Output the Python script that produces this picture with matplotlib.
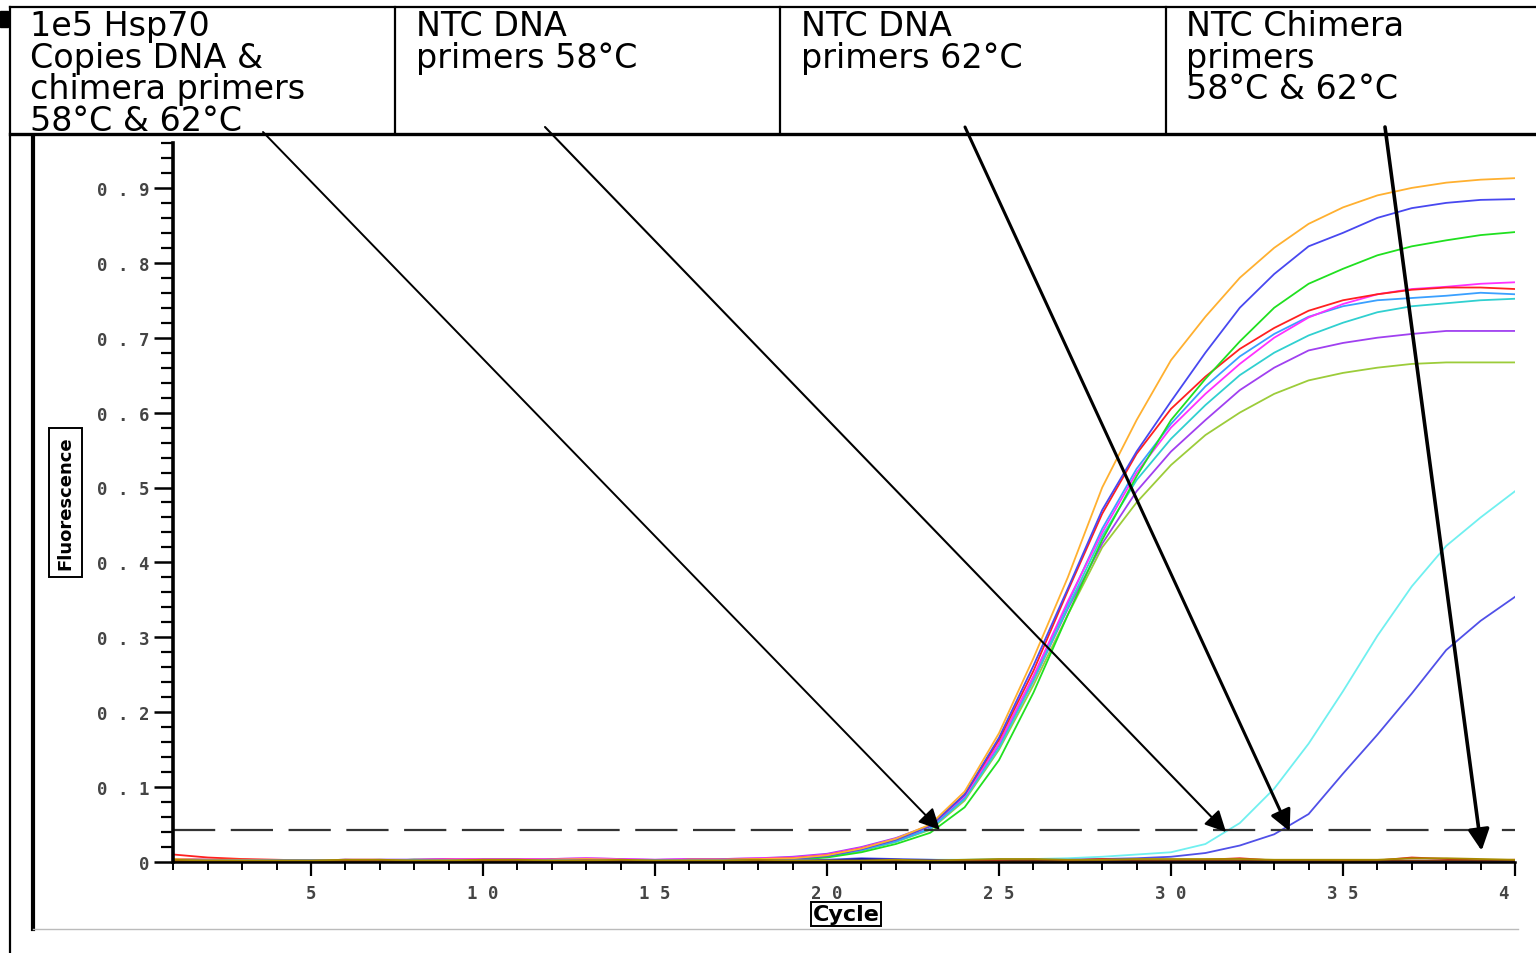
import matplotlib
matplotlib.use("Agg")
from matplotlib import pyplot as plt
from matplotlib.lines import Line2D
from matplotlib.patches import Rectangle
from matplotlib.ticker import MultipleLocator, FixedLocator
from matplotlib.transforms import Bbox, TransformedBbox

# ---- data (fluorescence per cycle) ----
cycles = list(range(1, 41))

orange = [0.004, 0.003, 0.003, 0.002, 0.002, 0.003, 0.003, 0.002, 0.003, 0.003,
          0.003, 0.003, 0.004, 0.003, 0.002, 0.003, 0.003, 0.004, 0.005, 0.009,
          0.018, 0.031, 0.050, 0.094, 0.172, 0.272, 0.380, 0.500, 0.590, 0.670,
          0.728, 0.780, 0.820, 0.852, 0.874, 0.890, 0.900, 0.907, 0.911, 0.913]
blue = [0.003, 0.002, 0.002, 0.002, 0.002, 0.003, 0.002, 0.002, 0.002, 0.003,
        0.003, 0.002, 0.003, 0.003, 0.002, 0.002, 0.003, 0.003, 0.004, 0.008,
        0.017, 0.030, 0.048, 0.090, 0.166, 0.262, 0.365, 0.470, 0.548, 0.615,
        0.680, 0.740, 0.785, 0.822, 0.840, 0.860, 0.873, 0.880, 0.884, 0.885]
green = [0.003, 0.002, 0.002, 0.002, 0.002, 0.002, 0.002, 0.003, 0.002, 0.002,
         0.002, 0.003, 0.003, 0.002, 0.002, 0.003, 0.003, 0.003, 0.003, 0.006,
         0.013, 0.024, 0.039, 0.073, 0.136, 0.226, 0.330, 0.430, 0.515, 0.590,
         0.645, 0.695, 0.740, 0.772, 0.792, 0.810, 0.822, 0.830, 0.837, 0.841]
red = [0.010, 0.006, 0.004, 0.003, 0.002, 0.002, 0.002, 0.003, 0.003, 0.002,
       0.002, 0.003, 0.003, 0.002, 0.002, 0.003, 0.003, 0.004, 0.005, 0.009,
       0.018, 0.030, 0.048, 0.090, 0.163, 0.255, 0.362, 0.465, 0.545, 0.605,
       0.648, 0.685, 0.713, 0.736, 0.750, 0.758, 0.764, 0.767, 0.767, 0.765]
magenta = [0.004, 0.003, 0.003, 0.002, 0.002, 0.003, 0.003, 0.003, 0.004, 0.004,
           0.004, 0.004, 0.005, 0.004, 0.003, 0.004, 0.004, 0.005, 0.006, 0.010,
           0.019, 0.031, 0.048, 0.088, 0.158, 0.248, 0.348, 0.440, 0.520, 0.580,
           0.625, 0.665, 0.700, 0.727, 0.745, 0.758, 0.765, 0.768, 0.772, 0.774]
skyblue = [0.004, 0.003, 0.003, 0.002, 0.002, 0.002, 0.003, 0.003, 0.003, 0.003,
           0.003, 0.003, 0.003, 0.003, 0.002, 0.003, 0.003, 0.004, 0.005, 0.008,
           0.016, 0.028, 0.045, 0.086, 0.157, 0.247, 0.345, 0.445, 0.525, 0.585,
           0.635, 0.675, 0.705, 0.728, 0.742, 0.750, 0.753, 0.756, 0.760, 0.758]
cyan = [0.003, 0.002, 0.002, 0.002, 0.002, 0.002, 0.002, 0.003, 0.003, 0.003,
        0.003, 0.003, 0.003, 0.003, 0.002, 0.003, 0.003, 0.003, 0.004, 0.008,
        0.016, 0.027, 0.044, 0.084, 0.152, 0.242, 0.340, 0.435, 0.510, 0.565,
        0.610, 0.650, 0.680, 0.703, 0.720, 0.734, 0.742, 0.746, 0.750, 0.752]
purple = [0.004, 0.003, 0.003, 0.002, 0.002, 0.003, 0.003, 0.003, 0.004, 0.004,
          0.004, 0.004, 0.005, 0.004, 0.003, 0.004, 0.004, 0.005, 0.007, 0.011,
          0.020, 0.032, 0.049, 0.087, 0.156, 0.242, 0.338, 0.425, 0.495, 0.548,
          0.590, 0.630, 0.660, 0.683, 0.693, 0.700, 0.705, 0.709, 0.709, 0.709]
yellowgreen = [0.003, 0.002, 0.002, 0.002, 0.002, 0.002, 0.002, 0.002, 0.003, 0.003,
               0.003, 0.003, 0.003, 0.003, 0.002, 0.003, 0.003, 0.003, 0.004, 0.007,
               0.015, 0.027, 0.043, 0.082, 0.150, 0.236, 0.330, 0.420, 0.480, 0.530,
               0.570, 0.600, 0.625, 0.643, 0.653, 0.660, 0.665, 0.667, 0.667, 0.667]

late_cyan = [0.002, 0.002, 0.002, 0.002, 0.002, 0.002, 0.002, 0.002, 0.002, 0.002,
             0.002, 0.002, 0.002, 0.002, 0.002, 0.002, 0.002, 0.002, 0.002, 0.003,
             0.003, 0.003, 0.003, 0.003, 0.004, 0.004, 0.005, 0.007, 0.010, 0.013,
             0.024, 0.052, 0.098, 0.158, 0.228, 0.302, 0.368, 0.422, 0.460, 0.495]
late_blue = [0.002, 0.002, 0.002, 0.002, 0.002, 0.002, 0.002, 0.002, 0.002, 0.002,
             0.002, 0.002, 0.002, 0.002, 0.002, 0.002, 0.002, 0.002, 0.002, 0.003,
             0.005, 0.004, 0.003, 0.002, 0.002, 0.003, 0.003, 0.004, 0.005, 0.007,
             0.012, 0.022, 0.037, 0.064, 0.118, 0.170, 0.225, 0.283, 0.322, 0.354]

base_olive = [0.003, 0.002, 0.002, 0.002, 0.002, 0.003, 0.003, 0.002, 0.002, 0.003,
              0.003, 0.002, 0.002, 0.003, 0.002, 0.002, 0.002, 0.003, 0.002, 0.002,
              0.002, 0.003, 0.002, 0.003, 0.004, 0.004, 0.003, 0.003, 0.004, 0.004,
              0.004, 0.004, 0.003, 0.003, 0.003, 0.003, 0.005, 0.005, 0.004, 0.003]
base_red = [0.002, 0.001, 0.001, 0.001, 0.001, 0.002, 0.001, 0.001, 0.001, 0.002,
            0.001, 0.001, 0.002, 0.001, 0.001, 0.001, 0.001, 0.001, 0.001, 0.001,
            0.001, 0.001, 0.001, 0.001, 0.002, 0.002, 0.002, 0.004, 0.002, 0.002,
            0.003, 0.005, 0.002, 0.002, 0.002, 0.002, 0.006, 0.004, 0.002, 0.003]
base_navy = [0.001, 0.001, 0.001, 0.001, 0.001, 0.001, 0.001, 0.001, 0.001, 0.001,
             0.001, 0.001, 0.001, 0.001, 0.001, 0.001, 0.001, 0.001, 0.001, 0.002,
             0.004, 0.003, 0.002, 0.001, 0.001, 0.001, 0.001, 0.001, 0.001, 0.001,
             0.001, 0.001, 0.001, 0.001, 0.001, 0.001, 0.001, 0.001, 0.001, 0.001]
base_brown = [0.001, 0.001, 0.001, 0.001, 0.001, 0.001, 0.001, 0.001, 0.001, 0.001,
              0.001, 0.001, 0.001, 0.001, 0.001, 0.001, 0.001, 0.001, 0.001, 0.001,
              0.001, 0.001, 0.001, 0.001, 0.001, 0.002, 0.001, 0.002, 0.002, 0.002,
              0.002, 0.002, 0.002, 0.002, 0.001, 0.002, 0.002, 0.002, 0.002, 0.002]

threshold = 0.043

header_texts = ["1e5 Hsp70\nCopies DNA &\nchimera primers\n58°C & 62°C",
                "NTC DNA\nprimers 58°C",
                "NTC DNA\nprimers 62°C",
                "NTC Chimera\nprimers\n58°C & 62°C"]

# arrow targets (cycle, fluorescence) and starts in header (figure px from top-left)
arrow_targets = [(23.28, 0.043), (31.6, 0.040), (33.45, 0.041), (39.03, 0.015)]
arrow_starts = [(263, 133), (545, 128), (965, 128), (1385, 128)]
arrow_widths = [1.4, 1.5, 2.2, 2.6]

W, H = 1536, 954
fig = plt.figure(figsize=(W / 100, H / 100), dpi=100)


def fx(px):
    return px / W


def fy(py):
    return 1 - py / H


ax = fig.add_axes([fx(173.4), fy(863), (1515 - 173.4) / W, 0.96 * 749 / H])

series = [
    (yellowgreen, "#9ccc3a"), (purple, "#a040f0"), (cyan, "#30d0d0"),
    (skyblue, "#3aa0ff"), (magenta, "#ff30ff"), (red, "#ff2020"),
    (green, "#20e020"), (blue, "#4848f0"), (orange, "#ffb030"),
    (late_cyan, "#70f0f0"), (late_blue, "#5050e8"),
    (base_navy, "#1010a0"), (base_red, "#e82020"),
    (base_brown, "#7a3a10"), (base_olive, "#a88a00"),
]
for vals, col in series:
    ax.plot(cycles, vals, color=col, lw=1.3)

ax.axhline(threshold, color="#333333", lw=1.6, dashes=(19, 7))

ax.set_xlim(1, 40)
ax.set_ylim(0, 0.96)

for s in ["top", "right"]:
    ax.spines[s].set_visible(False)
ax.spines["left"].set_linewidth(2.6)
ax.spines["bottom"].set_linewidth(1.8)

ax.yaxis.set_major_locator(FixedLocator([0, 0.1, 0.2, 0.3, 0.4, 0.5, 0.6, 0.7, 0.8, 0.9]))
ax.yaxis.set_minor_locator(MultipleLocator(0.02))
ax.xaxis.set_major_locator(FixedLocator([5, 10, 15, 20, 25, 30, 35, 40]))
ax.xaxis.set_minor_locator(MultipleLocator(1))

ax.set_yticklabels([" . ".join(f"{v:g}".split(".")) for v in ax.get_yticks()])
ax.set_xticklabels([" ".join(f"{int(v)}") for v in ax.get_xticks()])

ax.tick_params(axis="y", which="major", length=14, width=1.8, direction="out", pad=3,
               labelsize=12.5, labelcolor="#444444")
ax.tick_params(axis="y", which="minor", length=9, width=1.6, direction="out")
ax.tick_params(axis="x", which="major", length=10, width=1.6, direction="out", pad=6,
               labelsize=12.5, labelcolor="#444444")
ax.tick_params(axis="x", which="minor", length=6, width=1.4, direction="out")
for lab in ax.get_yticklabels() + ax.get_xticklabels():
    lab.set_fontfamily("DejaVu Sans Mono")
    lab.set_fontweight("bold")

clip = TransformedBbox(Bbox([[0, 0], [fx(1519), 1]]), fig.transFigure)
for lab in ax.get_xticklabels():
    lab.set_clip_box(clip)
    lab.set_clip_on(True)

ax.text(-0.0805, 0.5, "Fluorescence", transform=ax.transAxes, rotation=90,
        ha="center", va="center", fontsize=13, fontweight="bold",
        bbox=dict(boxstyle="square,pad=0.42", fc="white", ec="black", lw=1.4))
ax.text(0.5015, -0.072, "Cycle", transform=ax.transAxes, ha="center", va="center",
        fontsize=16, fontweight="bold",
        bbox=dict(boxstyle="square,pad=0.08", fc="white", ec="black", lw=1.4))

# ---- header table and panel frame ----
def fline(xs, ys, lw, col="black"):
    fig.add_artist(Line2D([fx(x) for x in xs], [fy(y) for y in ys],
                          transform=fig.transFigure, color=col, lw=lw))


fline([10, W], [8, 8], 1.6)
fline([10, W], [135, 135], 2.4)
fline([10, 10], [8, H], 1.6)
for xv in [395, 780, 1166]:
    fline([xv, xv], [8, 135], 1.6)
fline([33, 33], [137, 930], 3.0)
fline([33, 1518], [930, 930], 1.0, "#bbbbbb")
fig.add_artist(Rectangle((0, fy(28)), fx(8), 16 / H, transform=fig.transFigure,
                         color="black"))

for xv, txt in zip([30, 416, 801, 1186], header_texts):
    fig.text(fx(xv), fy(10), txt, ha="left", va="top", fontsize=24,
             family="DejaVu Sans", linespacing=0.95)

for (tx, ty), (sx, sy), lw in zip(arrow_targets, arrow_starts, arrow_widths):
    ax.annotate("", xy=(tx, ty), xycoords="data", xytext=(sx, H - sy),
                textcoords="figure pixels", annotation_clip=False,
                arrowprops=dict(arrowstyle="-|>", color="black", lw=lw,
                                mutation_scale=32, shrinkA=0, shrinkB=0))

fig.savefig("out.png", dpi=100)
